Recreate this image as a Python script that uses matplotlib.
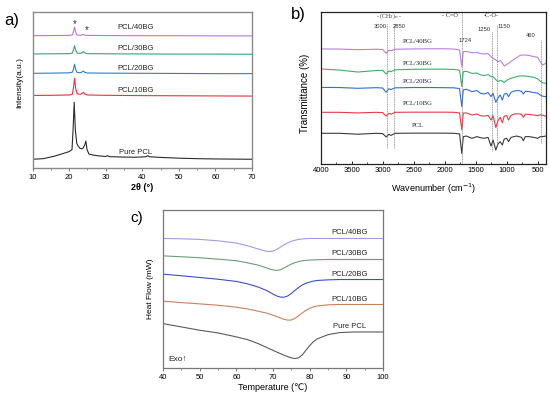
import numpy as np
import matplotlib
matplotlib.use('Agg')
import matplotlib.pyplot as plt
from matplotlib.ticker import MultipleLocator

plt.rcParams['font.family'] = ['Liberation Sans', 'DejaVu Sans']

# ---------------- a) XRD ----------------
tt_pcl = [10, 13, 16, 18, 20, 20.8, 21.1, 21.4, 21.7, 22.1, 22.5, 23.0, 23.5, 23.9, 24.3, 24.6,
          24.9, 25.4, 26.5, 28, 30, 30.5, 31, 35, 38, 41, 41.5, 42, 45, 50, 55, 60, 65, 70]
xrd_pcl = [5.6, 6.0, 7.6, 9.0, 10.5, 11.8, 25.0, 42.1, 25.0, 15.8, 14.0, 12.6, 12.3, 13.0, 15.0, 17.3,
           12.0, 9.0, 8.3, 7.8, 7.4, 7.9, 7.3, 7.0, 6.9, 7.2, 7.9, 7.2, 6.8, 6.3, 6.0, 5.8, 5.7, 5.6]

tt_bg = [10, 15, 20, 20.9, 21.2, 21.5, 21.8, 22.2, 23.0, 23.5, 23.9, 24.3, 25, 30, 40, 50, 60, 70]
xrd_10bg = [46.5, 46.6, 46.8, 47.3, 51.5, 57.5, 51.0, 47.6, 47.2, 47.8, 48.5, 47.4, 46.8, 46.6, 46.4, 46.3, 46.2, 46.1]
xrd_20bg = [60.7, 60.8, 61.0, 61.4, 63.5, 66.5, 63.0, 61.3, 61.0, 61.5, 62.2, 61.3, 60.9, 60.8, 60.7, 60.6, 60.5, 60.5]
xrd_30bg = [73.1, 73.2, 73.3, 73.7, 75.8, 78.4, 75.5, 73.7, 73.4, 73.9, 74.6, 73.8, 73.3, 73.2, 73.1, 73.0, 73.0, 72.9]
xrd_40bg = [84.8, 84.9, 85.0, 85.3, 87.5, 90.2, 87.0, 85.3, 85.0, 85.2, 85.6, 85.2, 85.0, 84.9, 84.8, 84.8, 84.7, 84.7]

xrd_names = ['Pure PCL', 'PCL/10BG', 'PCL/20BG', 'PCL/30BG', 'PCL/40BG']
xrd_label_y = [9.8, 49.4, 63.9, 76.7, 89.9]
xrd_colors = ['#2b2b2b', '#e8323c', '#2e7fc4', '#2daa78', '#b67ad8']

# ---------------- b) FTIR ----------------
wn = [4000, 3700, 3400, 3100, 3000, 2945, 2900, 2865, 2800, 2500, 2200, 2000, 1850, 1760, 1724, 1700,
      1650, 1560, 1480, 1420, 1365, 1300, 1253, 1220, 1175, 1140, 1105, 1070, 1040, 1000, 970, 930,
      880, 840, 800, 760, 732, 700, 640, 560, 500, 460, 420, 370]
ir_pcl = [20.2, 20.2, 19.6, 20.2, 20.0, 17.8, 19.5, 18.8, 20.2, 20.3, 20.3, 20.3, 20.2, 19.8, 7.0, 18.0,
          18.4, 16.9, 18.0, 17.3, 16.9, 17.5, 11.8, 15.8, 9.2, 13.2, 14.7, 12.5, 16.4, 16.9, 14.7, 17.5,
          18.0, 18.4, 18.0, 17.5, 15.3, 18.0, 18.0, 17.5, 16.9, 18.0, 18.0, 18.4]
ir_10bg = [34.0, 34.0, 33.6, 34.0, 33.8, 31.5, 33.3, 32.8, 34.0, 34.1, 34.1, 34.1, 34.0, 33.6, 22.4, 33.5,
           33.6, 32.2, 32.9, 31.8, 31.5, 32.0, 28.9, 31.8, 24.0, 28.5, 30.7, 27.2, 31.5, 31.8, 28.9, 32.0,
           32.9, 33.0, 33.0, 32.6, 30.7, 32.8, 32.6, 32.2, 31.8, 32.4, 32.0, 31.5]
ir_20bg = [50.4, 50.3, 49.8, 50.2, 50.0, 47.2, 49.5, 49.0, 50.1, 50.3, 50.3, 50.2, 50.1, 49.6, 37.7, 48.7,
           49.2, 47.6, 48.3, 46.5, 46.0, 47.0, 44.3, 46.5, 40.5, 43.5, 45.4, 42.1, 46.0, 46.5, 44.3, 47.2,
           48.0, 48.3, 48.2, 47.8, 46.1, 47.8, 47.6, 47.0, 46.6, 45.4, 44.6, 44.3]
ir_30bg = [62.5, 61.8, 60.5, 61.5, 61.6, 59.2, 61.2, 60.8, 62.0, 62.3, 62.4, 62.4, 62.2, 61.6, 50.9, 60.7,
           61.0, 59.6, 59.8, 58.6, 58.2, 58.8, 57.5, 57.5, 55.5, 54.2, 55.0, 54.6, 53.5, 55.0, 55.7, 56.4,
           57.0, 57.5, 57.9, 58.0, 57.9, 57.9, 57.5, 57.0, 56.0, 54.5, 53.5, 53.1]
ir_40bg = [75.7, 75.6, 75.2, 75.5, 75.3, 72.8, 74.9, 74.5, 75.5, 75.7, 75.8, 75.8, 75.6, 75.0, 64.0, 73.9,
           74.0, 73.2, 73.4, 72.6, 72.4, 72.6, 70.6, 69.5, 68.4, 67.3, 68.0, 66.5, 64.5, 65.5, 66.2, 67.5,
           68.9, 70.0, 71.1, 71.7, 71.6, 71.7, 71.4, 70.6, 70.2, 67.3, 65.1, 66.2]

ir_names = ['PCL', 'PCL/10BG', 'PCL/20BG', 'PCL/30BG', 'PCL/40BG']
ir_label_y = [25.0, 39.5, 54.6, 66.2, 80.5]
ir_colors = ['#3a3a3a', '#e83c46', '#2f6fd2', '#3cb06a', '#b880e0']

# marked bands: position, bottom, top
band_pos = [2935, 2825, 1724, 1240, 1150, 440]
band_lo = [10.5, 10.5, 0.7, 8.3, 11.6, 13.8]
band_hi = [92.6, 92.6, 100, 87.0, 91.4, 81.6]
band_txt = ['3000', '2850', '1724', '1250', '1150', '460']
band_txt_x = [3032, 2732, 1673, 1366, 1044, 614]
band_txt_y = [90.2, 90.2, 81.0, 88.6, 90.2, 84.7]

# ---------------- c) DSC ----------------
temp = [40, 45, 50, 55, 60, 63, 66, 68, 69, 70, 71, 72, 73, 74, 75, 76, 77, 78, 79, 80, 81, 82, 85, 88, 92, 100]
dsc_pcl = [28.1, 26.0, 23.9, 22.2, 19.7, 18.0, 15.4, 13.3, 12.2, 11.2, 10.1, 9.1, 8.1, 7.2, 6.4, 6.0,
           6.5, 8.3, 11.3, 14.2, 16.6, 18.4, 21.1, 22.4, 22.8, 22.8]
dsc_10bg = [42.3, 41.4, 40.6, 39.7, 38.5, 37.4, 35.9, 34.9, 34.2, 33.4, 32.6, 31.7, 30.8, 30.3, 30.4, 31.4,
            33.1, 34.9, 36.5, 37.8, 38.7, 39.3, 40.0, 40.2, 40.2, 40.2]
dsc_20bg = [59.4, 58.4, 57.3, 56.2, 54.8, 53.3, 51.2, 49.3, 48.1, 46.8, 45.6, 44.9, 44.8, 45.6, 47.2, 49.2,
            51.0, 52.6, 53.7, 54.4, 55.0, 55.4, 55.8, 56.0, 56.0, 56.0]
dsc_30bg = [71.0, 70.4, 69.8, 68.9, 67.9, 66.6, 65.1, 63.6, 62.7, 62.1, 61.8, 62.2, 63.3, 64.6, 65.8, 66.7,
            67.4, 67.9, 68.1, 68.3, 68.4, 68.5, 68.7, 68.7, 68.7, 68.7]
dsc_40bg = [82.0, 81.8, 81.4, 80.5, 79.1, 77.4, 75.3, 74.0, 73.7, 74.0, 75.0, 76.5, 78.0, 79.2, 80.2, 80.9,
            81.4, 81.7, 81.9, 82.0, 82.0, 82.0, 82.0, 82.0, 82.0, 82.0]

dsc_names = ['Pure PCL', 'PCL/10BG', 'PCL/20BG', 'PCL/30BG', 'PCL/40BG']
dsc_label_y = [26.4, 43.6, 59.4, 72.7, 85.6]
dsc_colors = ['#5a5a5a', '#c8825e', '#3c50c4', '#6e9c78', '#a898e4']


fig = plt.figure(figsize=(5.5, 3.93), dpi=100)

# ---- panel a
ax1 = fig.add_axes([0.0591, 0.5725, 0.399, 0.397])
for x, y, c in zip([tt_pcl, tt_bg, tt_bg, tt_bg, tt_bg],
                   [xrd_pcl, xrd_10bg, xrd_20bg, xrd_30bg, xrd_40bg], xrd_colors):
    ax1.plot(x, y, color=c, lw=0.8)
for name, ly in zip(xrd_names, xrd_label_y):
    ax1.text(38.3, ly, name, fontsize=5.5, ha='center', va='center', color='#222222')
ax1.text(21.6, 92.2, '*', fontsize=7, ha='center', va='center', color='#333333')
ax1.text(24.8, 88.2, '*', fontsize=7, ha='center', va='center', color='#333333')
ax1.set_xlim(10, 70)
ax1.set_ylim(0, 100)
ax1.set_xticks(range(10, 71, 10))
ax1.xaxis.set_minor_locator(MultipleLocator(5))
ax1.set_yticks([])
ax1.tick_params(axis='x', which='major', labelsize=5.5, length=2.5, width=0.6, color='#666666', pad=2)
ax1.tick_params(axis='x', which='minor', length=1.5, width=0.5, color='#666666')
for s in ax1.spines.values():
    s.set_color('#8a8a8a')
    s.set_linewidth(1.0)
ax1.set_xlabel('2θ (°)', fontsize=6.5, fontweight='bold')
ax1.xaxis.set_label_coords(0.5, -0.095)
ax1.set_ylabel('Intensity(a.u.)', fontsize=6)
ax1.yaxis.set_label_coords(-0.041, 0.55)
fig.text(0.022, 0.949, 'a)', fontsize=12, ha='center', va='center')

# ---- panel b
ax2 = fig.add_axes([0.5831, 0.5827, 0.4096, 0.3868])
for y, c in zip([ir_pcl, ir_10bg, ir_20bg, ir_30bg, ir_40bg], ir_colors):
    ax2.plot(wn, y, color=c, lw=0.8)
for p, lo, hi in zip(band_pos, band_lo, band_hi):
    ax2.plot([p, p], [lo, hi], color='#777777', lw=0.5, ls=(0, (1.5, 1.0)))
for t, tx, ty in zip(band_txt, band_txt_x, band_txt_y):
    ax2.text(tx, ty, t, fontsize=4.2, ha='center', va='center', color='#333333')
ax2.text(2897, 97.4, r'- (CH$_2$)$_n$ -', fontsize=4.2, ha='center', va='center',
         family='Liberation Serif', color='#333333')
ax2.text(1915, 97.4, '- C=O', fontsize=4.5, ha='center', va='center', family='Liberation Serif', color='#333333')
ax2.text(1242, 97.4, '-C-O-', fontsize=4.5, ha='center', va='center', family='Liberation Serif', color='#333333')
for name, ly in zip(ir_names, ir_label_y):
    ax2.text(2430, ly, name, fontsize=4.8, ha='center', va='center', family='Liberation Serif', color='#222222')
ax2.set_xlim(4000, 366)
ax2.set_ylim(0, 100)
ax2.set_xticks(range(4000, 499, -500))
ax2.xaxis.set_minor_locator(MultipleLocator(250))
ax2.set_yticks([])
ax2.tick_params(axis='x', which='major', direction='in', labelsize=5.5, length=2.5, width=0.6, pad=2.5)
ax2.tick_params(axis='x', which='minor', direction='in', length=1.5, width=0.5)
for s in ax2.spines.values():
    s.set_color('#222222')
    s.set_linewidth(0.9)
ax2.set_xlabel('Wavenumber (cm$^{-1}$)', fontsize=6.5)
ax2.xaxis.set_label_coords(0.5, -0.115)
ax2.set_ylabel('Transmittance (%)', fontsize=7)
ax2.yaxis.set_label_coords(-0.047, 0.467)
fig.text(0.542, 0.962, 'b)', fontsize=12, ha='center', va='center')

# ---- panel c
ax3 = fig.add_axes([0.2964, 0.0636, 0.4, 0.402])
for y, c in zip([dsc_pcl, dsc_10bg, dsc_20bg, dsc_30bg, dsc_40bg], dsc_colors):
    ax3.plot(temp, y, color=c, lw=0.8)
for name, ly in zip(dsc_names, dsc_label_y):
    ax3.text(90.8, ly, name, fontsize=5.5, ha='center', va='center', color='#222222')
ax3.text(41.5, 5.5, 'Exo↑', fontsize=6, ha='left', va='center', color='#222222')
ax3.set_xlim(40, 100)
ax3.set_ylim(0, 100)
ax3.set_xticks(range(40, 101, 10))
ax3.xaxis.set_minor_locator(MultipleLocator(5))
ax3.set_yticks([])
ax3.tick_params(axis='x', which='major', labelsize=5.5, length=2.5, width=0.6, color='#666666', pad=2)
ax3.tick_params(axis='x', which='minor', length=1.5, width=0.5, color='#666666')
for s in ax3.spines.values():
    s.set_color('#777777')
    s.set_linewidth(0.9)
ax3.set_xlabel('Temperature (℃)', fontsize=6.5)
ax3.xaxis.set_label_coords(0.5, -0.097)
ax3.set_ylabel('Heat Flow (mW)', fontsize=6)
ax3.yaxis.set_label_coords(-0.043, 0.5)
fig.text(0.249, 0.445, 'c)', fontsize=11, ha='center', va='center')

fig.savefig('out.png', dpi=100)
